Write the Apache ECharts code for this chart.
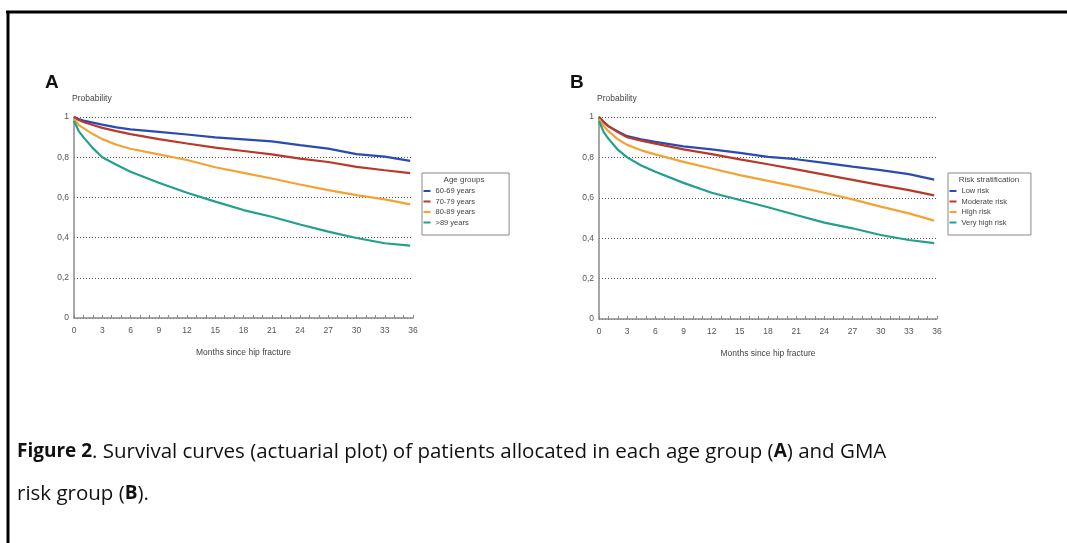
<!DOCTYPE html>
<html>
<head>
<meta charset="utf-8">
<script src="https://cdn.jsdelivr.net/npm/echarts@6/dist/echarts.min.js"></script>
<style>
  html, body { margin: 0; padding: 0; background: #ffffff; }
  #chart { width: 1067px; height: 543px; }
</style>
</head>
<body>
<div id="chart"></div>
<script>
// Months since hip fracture at which the survival estimates are given
const months = [0, 0.5, 1, 2, 3, 4.5, 6, 9, 12, 15, 18, 21, 24, 27, 30, 33, 35.7];

// Panel A: survival probability by age group
const ageGroups = ['60-69 years', '70-79 years', '80-89 years', '>89 years'];
const age60to69 = [1, 0.99, 0.982, 0.972, 0.962, 0.948, 0.938, 0.926, 0.913, 0.899, 0.889, 0.879, 0.860, 0.843, 0.815, 0.803, 0.782];
const age70to79 = [1, 0.985, 0.975, 0.960, 0.946, 0.930, 0.915, 0.890, 0.868, 0.848, 0.831, 0.814, 0.793, 0.776, 0.752, 0.735, 0.721];
const age80to89 = [0.99, 0.96, 0.945, 0.915, 0.89, 0.862, 0.842, 0.814, 0.786, 0.750, 0.722, 0.694, 0.664, 0.636, 0.611, 0.590, 0.565];
const ageOver89 = [0.98, 0.93, 0.90, 0.845, 0.80, 0.762, 0.728, 0.673, 0.623, 0.579, 0.537, 0.504, 0.465, 0.430, 0.398, 0.372, 0.360];

// Panel B: survival probability by GMA risk stratum
const riskGroups = ['Low risk', 'Moderate risk', 'High risk', 'Very high risk'];
const riskLow = [1, 0.975, 0.955, 0.928, 0.905, 0.89, 0.877, 0.855, 0.840, 0.822, 0.803, 0.791, 0.773, 0.754, 0.737, 0.717, 0.690];
const riskModerate = [1, 0.975, 0.955, 0.925, 0.900, 0.883, 0.868, 0.840, 0.816, 0.790, 0.766, 0.741, 0.715, 0.689, 0.663, 0.638, 0.612];
const riskHigh = [0.99, 0.955, 0.93, 0.89, 0.862, 0.835, 0.815, 0.778, 0.745, 0.712, 0.684, 0.655, 0.625, 0.592, 0.556, 0.523, 0.487];
const riskVeryHigh = [0.98, 0.925, 0.893, 0.838, 0.80, 0.76, 0.729, 0.674, 0.625, 0.589, 0.553, 0.515, 0.477, 0.449, 0.416, 0.391, 0.376];

const palette = ['#2b4bb0', '#b8382a', '#f5a235', '#22a08c'];
const axisFont = 'Liberation Sans';
const captionFont = 'Open Sans';
const axisGray = '#8a8a8a';
const labelGray = '#555555';

function pairs(values) {
  return months.map((m, i) => [m, values[i]]);
}

function probLabel(v) {
  if (v === 0) return '0';
  if (v === 1) return '1';
  return v.toFixed(1).replace('.', ',');
}

function xAxisFor(gridIndex) {
  return {
    type: 'value', gridIndex: gridIndex, min: 0, max: 36, interval: 3,
    name: 'Months since hip fracture', nameLocation: 'middle', nameGap: 30,
    nameTextStyle: { fontFamily: axisFont, fontSize: 8.5, color: '#444' },
    axisLine: { show: true, lineStyle: { color: axisGray, width: 1.5 } },
    axisTick: { show: true, inside: true, length: 3, lineStyle: { color: axisGray } },
    minorTick: { show: true, splitNumber: 3, length: 3, lineStyle: { color: axisGray } },
    axisLabel: { fontFamily: axisFont, fontSize: 8.5, color: labelGray, margin: 8 },
    splitLine: { show: false }
  };
}

function yAxisFor(gridIndex) {
  return {
    type: 'value', gridIndex: gridIndex, min: 0, max: 1, interval: 0.2,
    name: 'Probability', nameLocation: 'end', nameGap: 14,
    nameTextStyle: { fontFamily: axisFont, fontSize: 8.5, color: '#444', align: 'left', padding: [0, 0, 0, -2] },
    axisLine: { show: true, lineStyle: { color: axisGray, width: 1.5 } },
    axisTick: { show: false },
    axisLabel: { fontFamily: axisFont, fontSize: 8.5, color: labelGray, margin: 5, formatter: probLabel },
    splitLine: { show: true, lineStyle: { color: '#555', type: [1, 2], width: 1 } }
  };
}

function lineSeries(name, values, idx, axisIdx) {
  return {
    type: 'line', name: name, data: pairs(values),
    xAxisIndex: axisIdx, yAxisIndex: axisIdx,
    showSymbol: false, symbol: 'none',
    color: palette[idx],
    lineStyle: { width: 2.2, color: palette[idx] }
  };
}

function legendFor(names, left, padRight) {
  return {
    data: names, orient: 'vertical', left: left, top: 173,
    icon: 'rect', itemWidth: 7, itemHeight: 2, itemGap: 1.5,
    padding: [13.5, padRight, 8, 1.5],
    borderColor: '#888', borderWidth: 1,
    selectedMode: false,
    textStyle: { fontFamily: axisFont, fontSize: 7.5, color: '#444', lineHeight: 9 }
  };
}

const captionRich = {
  b: { fontFamily: captionFont, fontSize: 19, fontWeight: 'bold', fill: '#111' },
  n: { fontFamily: captionFont, fontSize: 20.5, fill: '#111' }
};

const chart = echarts.init(document.getElementById('chart'), null, { renderer: 'canvas' });

chart.setOption({
  animation: false,
  backgroundColor: '#ffffff',
  title: [
    { text: 'A', left: 45, top: 73, padding: 0, textStyle: { fontFamily: axisFont, fontSize: 19, fontWeight: 'bold', color: '#111' } },
    { text: 'B', left: 570, top: 73, padding: 0, textStyle: { fontFamily: axisFont, fontSize: 19, fontWeight: 'bold', color: '#111' } }
  ],
  grid: [
    { left: 74, top: 117, width: 339, height: 201 },
    { left: 599, top: 117, width: 338, height: 202 }
  ],
  xAxis: [xAxisFor(0), xAxisFor(1)],
  yAxis: [yAxisFor(0), yAxisFor(1)],
  legend: [
    legendFor(ageGroups, 422, 34),
    legendFor(riskGroups, 948, 24)
  ],
  series: [
    lineSeries(ageGroups[0], age60to69, 0, 0),
    lineSeries(ageGroups[1], age70to79, 1, 0),
    lineSeries(ageGroups[2], age80to89, 2, 0),
    lineSeries(ageGroups[3], ageOver89, 3, 0),
    lineSeries(riskGroups[0], riskLow, 0, 1),
    lineSeries(riskGroups[1], riskModerate, 1, 1),
    lineSeries(riskGroups[2], riskHigh, 2, 1),
    lineSeries(riskGroups[3], riskVeryHigh, 3, 1)
  ],
  graphic: [
    // page frame (top and left rules)
    { type: 'line', shape: { x1: 6, y1: 12, x2: 1067, y2: 12 }, style: { stroke: '#000', lineWidth: 3 } },
    { type: 'line', shape: { x1: 8, y1: 11, x2: 8, y2: 543 }, style: { stroke: '#000', lineWidth: 3 } },
    // legend headings
    { type: 'text', x: 464, y: 180, style: { text: 'Age groups', fontFamily: axisFont, fontSize: 8, fill: '#444', align: 'center', verticalAlign: 'middle' } },
    { type: 'text', x: 989, y: 180, style: { text: 'Risk stratification', fontFamily: axisFont, fontSize: 8, fill: '#444', align: 'center', verticalAlign: 'middle' } },
    // caption
    {
      type: 'text', x: 17, y: 452,
      style: {
        text: '{b|Figure 2}{n|. Survival curves (actuarial plot) of patients allocated in each age group (}{b|A}{n|) and GMA}',
        verticalAlign: 'middle',
        rich: captionRich
      }
    },
    {
      type: 'text', x: 17, y: 494,
      style: {
        text: '{n|risk group (}{b|B}{n|).}',
        verticalAlign: 'middle',
        rich: captionRich
      }
    }
  ]
});
</script>
</body>
</html>
